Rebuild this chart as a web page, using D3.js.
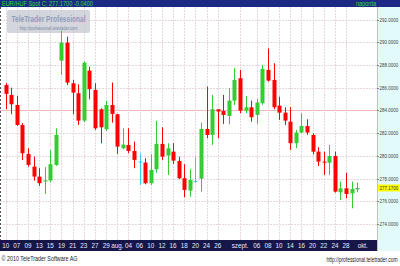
<!DOCTYPE html>
<html><head><meta charset="utf-8">
<script src="https://cdn.jsdelivr.net/npm/d3@7"></script>
<style>html,body{margin:0;padding:0;background:#fff;}svg{display:block;font-family:"Liberation Sans",Arial,sans-serif;}</style>
</head><body>
<svg id="c" width="400" height="266"></svg>
<script>
// ---- data (EUR/HUF daily candles) ----
const opens  = [286.24,285.36,284.48,282.72,280.17,279.05,278.17,277.74,277.83,279.20,288.38,289.97,286.39,285.51,283.10,287.50,285.80,284.10,282.34,284.48,283.66,280.67,280.96,280.43,279.50,279.41,277.59,278.82,281.05,280.02,280.37,279.55,278.03,276.94,277.80,277.99,282.37,281.84,284.10,283.95,283.51,284.86,286.83,283.98,284.27,283.60,284.63,287.56,286.68,284.42,283.80,283.01,281.11,282.05,282.63,281.84,280.37,279.49,279.40,279.99,276.79,277.14,276.70,277.05];
const highs  = [286.39,286.00,285.27,282.87,280.67,279.93,278.91,279.00,280.52,282.43,291.00,290.49,286.68,286.30,288.32,287.85,286.39,284.19,284.83,286.45,283.69,282.43,282.43,281.26,280.23,279.79,280.14,283.07,282.51,281.11,281.11,279.93,279.26,278.82,279.93,282.92,286.09,285.36,284.10,285.36,285.95,287.70,287.56,285.27,284.86,285.01,288.00,289.46,288.15,285.21,284.27,284.27,282.28,283.75,283.22,281.99,280.76,280.37,280.96,280.37,277.73,278.52,277.73,277.64];
const lows   = [284.10,283.66,282.63,279.64,279.05,277.82,277.35,276.65,277.65,279.11,287.12,286.24,283.66,282.72,282.96,284.98,282.28,281.11,282.19,282.92,280.17,280.58,280.23,278.91,277.44,277.50,277.44,278.52,279.64,278.32,279.29,277.94,276.35,276.41,277.59,276.85,281.55,280.96,281.55,282.81,282.78,284.48,283.75,283.75,283.01,282.81,284.48,286.53,284.10,283.16,282.72,280.52,280.67,281.99,281.84,280.14,279.11,278.32,278.32,276.76,276.12,276.26,275.38,276.79];
const closes = [285.45,284.54,282.72,280.23,279.20,278.17,277.59,277.84,279.26,281.84,289.97,286.45,285.56,283.10,288.20,285.86,282.42,282.51,284.48,283.69,280.81,280.99,280.43,279.64,279.50,277.59,278.76,281.05,279.93,280.67,279.58,278.03,277.00,277.88,277.80,282.37,281.84,284.10,283.90,283.60,284.86,286.68,283.98,284.27,283.40,284.69,287.65,286.62,284.27,283.80,283.10,281.11,282.05,282.63,282.05,280.37,279.49,279.40,279.99,276.85,277.14,276.65,277.08,277.17];
const xTickIndex  = [0,2,4,6,8,10,12,14,16,18,20,22,24,26,28,30,32,34,36,38,42,45,47,49,51,53,55,57,59,61,64];
const xTickLabels = ["10","07","09","13","15","19","21","23","27","29","aug.","04","06","10","12","16","18","20","24","26","szept.","06","08","10","14","16","20","22","24","28","okt."];
const yTicks = [274,276,278,280,282,284,286,288,290,292];
const lastPrice = 277.17;
const headerText = "EUR/HUF Spot C: 277.1700 -0.0400";
const periodText = "naponta";

// ---- layout ----
const svg = d3.select("#c");
const plotL = 0, plotR = 377, plotT = 7, plotB = 240;
const x = d3.scaleLinear().domain([0, 64]).range([5.7, 362.8]);
const y = d3.scaleLinear().domain([274, 292]).range([224, 19.5]);

svg.append("rect").attr("x",0).attr("y",0).attr("width",400).attr("height",266).attr("fill","#ffffff");
svg.append("rect").attr("x",plotR).attr("y",plotT).attr("width",400-plotR).attr("height",251-plotT).attr("fill","#e2fafa");
svg.append("line").attr("x1",plotR+0.5).attr("x2",plotR+0.5).attr("y1",plotT).attr("y2",251).attr("stroke","#c8c890").attr("stroke-width",1);

// grid
const grid = svg.append("g");
grid.selectAll("line.h").data(yTicks).join("line")
  .attr("x1",plotL).attr("x2",plotR).attr("y1",d=>Math.round(y(d))+0.5).attr("y2",d=>Math.round(y(d))+0.5)
  .attr("stroke",d=>d===284?"#f0b8b8":"#e6d8d8").attr("stroke-width",1).attr("stroke-dasharray",d=>d===284?null:"2,1");
grid.selectAll("line.v").data(xTickIndex.filter(i=>i<64)).join("line")
  .attr("x1",d=>Math.round(x(d))+0.5).attr("x2",d=>Math.round(x(d))+0.5).attr("y1",plotT).attr("y2",plotB)
  .attr("stroke","#e6d8d8").attr("stroke-width",1).attr("stroke-dasharray","2,1");
svg.append("line").attr("x1",0.5).attr("x2",0.5).attr("y1",plotT).attr("y2",plotB).attr("stroke","#555").attr("stroke-dasharray","2,2");

// watermark
const wm = svg.append("g");
wm.append("rect").attr("x",7).attr("y",10).attr("width",83).attr("height",23).attr("rx",2).attr("fill","#c4c8d0").attr("opacity",0.75);
wm.append("text").attr("x",48.5).attr("y",22).attr("text-anchor","middle").attr("font-size",9).attr("font-weight","bold").attr("fill","#8e9cbc").attr("textLength",74).attr("lengthAdjust","spacingAndGlyphs").text("TeleTrader Professional");
wm.append("text").attr("x",48.5).attr("y",29.5).attr("text-anchor","middle").attr("font-size",4.5).attr("fill","#7a88a8").attr("textLength",58).attr("lengthAdjust","spacingAndGlyphs").text("http://professional.teletrader.com");

// candles
const data = opens.map((o,i)=>({i, o, h:highs[i], l:lows[i], c:closes[i]}));
const col = d => d.c > d.o ? "#33cc33" : (d.c < d.o ? "#ff0000" : "#33ccee");
const cg = svg.append("g");
cg.selectAll("line.w").data(data).join("line")
  .attr("x1",d=>Math.round(x(d.i))+0.5).attr("x2",d=>Math.round(x(d.i))+0.5)
  .attr("y1",d=>y(d.h)).attr("y2",d=>y(d.l)).attr("stroke",col).attr("stroke-width",1);
cg.selectAll("rect.b").data(data).join("rect")
  .attr("x",d=>Math.round(x(d.i))-1.5).attr("width",4)
  .attr("y",d=>y(Math.max(d.o,d.c)))
  .attr("height",d=>Math.max(1, y(Math.min(d.o,d.c))-y(Math.max(d.o,d.c))))
  .attr("fill",col);

// y-axis labels (horizontally compressed via transform)
const ya = svg.append("g");
ya.selectAll("line").data(yTicks).join("line")
  .attr("x1",plotR).attr("x2",plotR+2).attr("y1",d=>Math.round(y(d))+0.5).attr("y2",d=>Math.round(y(d))+0.5).attr("stroke","#888");
ya.selectAll("g").data(yTicks).join("g")
  .attr("transform",d=>`translate(379.5,${y(d)+2}) scale(0.8,1)`)
  .append("text").attr("font-size",5.6).attr("fill","#444")
  .text(d=>d3.format(".4f")(d));
svg.append("rect").attr("x",378).attr("y",y(lastPrice)-3.5).attr("width",21).attr("height",7).attr("fill","#ffff00");
svg.append("g").attr("transform",`translate(379.5,${y(lastPrice)+2}) scale(0.8,1)`)
  .append("text").attr("font-size",5.6).attr("fill","#333").text(d3.format(".4f")(lastPrice));

// header bar
svg.append("rect").attr("x",0).attr("y",0).attr("width",400).attr("height",7).attr("fill","#1c2a86");
svg.append("text").attr("x",2).attr("y",6).attr("font-size",7).attr("fill","#33dd33")
  .attr("textLength",91).attr("lengthAdjust","spacingAndGlyphs").text(headerText);
svg.append("text").attr("x",356).attr("y",6).attr("font-size",6.5).attr("fill","#33dd33")
  .attr("textLength",20).attr("lengthAdjust","spacingAndGlyphs").text(periodText);

// x axis band
svg.append("rect").attr("x",0).attr("y",plotB).attr("width",plotR).attr("height",11).attr("fill","#161648");
svg.append("g").selectAll("text").data(xTickIndex).join("text")
  .attr("x",d=>Math.max(5.5, x(d))).attr("y",plotB+8).attr("text-anchor","middle").attr("font-size",6.3).attr("fill","#e8e8ff")
  .text((d,k)=>xTickLabels[k]);

// footer
svg.append("text").attr("x",1.5).attr("y",261).attr("font-size",6.5).attr("fill","#222")
  .attr("textLength",76).attr("lengthAdjust","spacingAndGlyphs").text("© 2010 TeleTrader Software AG");
svg.append("g").attr("transform","translate(397.5,262) scale(0.78,1)")
  .append("text").attr("text-anchor","end").attr("font-size",6.3).attr("fill","#222")
  .text("http://professional.teletrader.com");
</script>
</body></html>
